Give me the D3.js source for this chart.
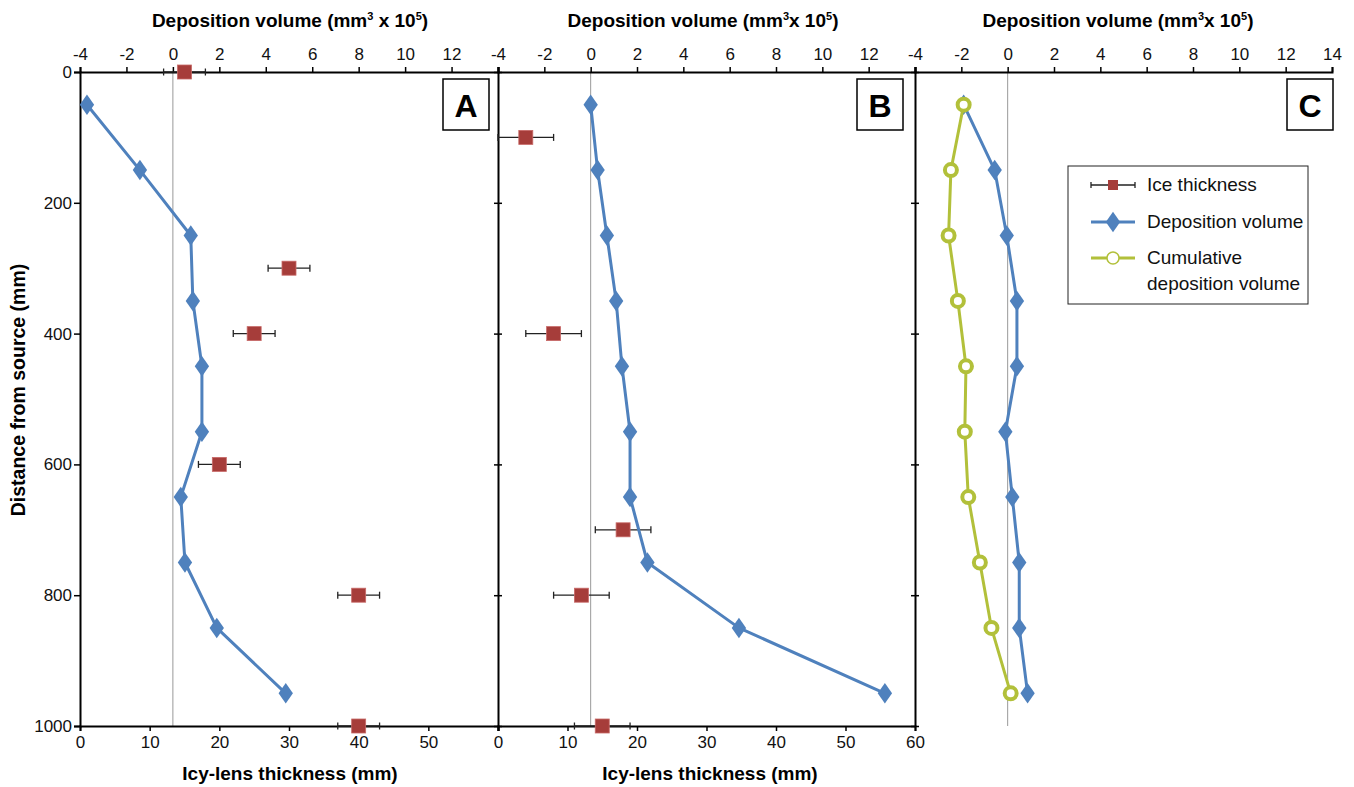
<!DOCTYPE html>
<html><head><meta charset="utf-8">
<script src="https://cdn.jsdelivr.net/npm/d3@7"></script>
<style>body{margin:0;background:#fff}svg{font-family:"Liberation Sans",Arial,sans-serif}</style>
</head><body><svg id="c" width="1354" height="787"></svg>
<script>
const distances = [50,150,250,350,450,550,650,750,850,950];
const depA = [-3.7,-1.42,0.77,0.86,1.25,1.25,0.34,0.52,1.89,4.86];
const depB = [0.0,0.3,0.7,1.1,1.35,1.7,1.7,2.45,6.4,12.7];
const depC = [-1.9,-0.56,-0.04,0.4,0.4,-0.1,0.2,0.5,0.5,0.86];
const cumC = [-1.9,-2.45,-2.55,-2.15,-1.8,-1.85,-1.7,-1.2,-0.7,0.13];
const iceDistA = [0,300,400,600,800,1000];
const iceA = [15,30,25,20,40,40];
const errA = 3;
const iceDistB = [100,400,700,800,1000];
const iceB = [4,8,18,12,15];
const errB = 4;
const depTicks = [-4,-2,0,2,4,6,8,10,12,14];
const thickTicks = [0,10,20,30,40,50,60];
const distTicks = [0,200,400,600,800,1000];
const panelLabels = ["A","B","C"];

const BLUE="#4F81BD", RED="#A63D3A", GREEN="#B2C03A";
const FONT="Liberation Sans, Arial, sans-serif";
const svg = d3.select("#c");
const yTop=72, yBot=726;
const y = d3.scaleLinear().domain([0,1000]).range([yTop,yBot]);
const edges=[80,498,915,1332];
const panels = [0,1,2].map(i=>({
  x0:edges[i], x1:edges[i+1],
  dep:d3.scaleLinear().domain([-4,14]).range([edges[i],edges[i+1]]),
  th:d3.scaleLinear().domain([0,60]).range([edges[i],edges[i+1]])
}));

function styleAxis(g){
  g.select(".domain").attr("stroke","#000").attr("stroke-width",2);
  g.selectAll(".tick line").attr("stroke","#000").attr("stroke-width",1.5);
  g.selectAll(".tick text").attr("font-size",17).attr("fill","#111").attr("font-family",FONT);
}

// zero lines
panels.forEach(p=>{
  svg.append("line").attr("x1",p.dep(0)).attr("x2",p.dep(0)).attr("y1",yTop).attr("y2",yBot)
    .attr("stroke","#999").attr("stroke-width",1);
});

// top axes
panels.forEach((p,i)=>{
  const g = svg.append("g").attr("transform",`translate(0,${yTop})`)
    .call(d3.axisTop(p.dep).tickValues(depTicks).tickSize(5).tickPadding(7)
      .tickFormat(d=> (i<2 && d===14) ? "" : String(d)));
  styleAxis(g);
});

// bottom axes for A and B
panels.slice(0,2).forEach((p,i)=>{
  const g = svg.append("g").attr("transform",`translate(0,${yBot})`)
    .call(d3.axisBottom(p.th).tickValues(thickTicks).tickSize(5).tickPadding(5)
      .tickFormat(d=> (i===0 && d===60) ? "" : String(d)));
  styleAxis(g);
});

// left axis
const gl = svg.append("g").attr("transform",`translate(80,0)`)
  .call(d3.axisLeft(y).tickValues(distTicks).tickSize(6).tickPadding(2).tickFormat(d=>String(d)));
styleAxis(gl);

// right borders of A and B with crossing ticks
[498,915].forEach(x=>{
  const g = svg.append("g").attr("transform",`translate(${x},0)`)
    .call(d3.axisLeft(y).tickValues(distTicks).tickSizeInner(5).tickSizeOuter(0).tickFormat(""));
  g.select(".domain").attr("stroke","#000").attr("stroke-width",2);
  g.selectAll(".tick line").attr("stroke","#000").attr("stroke-width",1.5).attr("x2",-4).attr("x1",4);
});

// ice thickness with error bars
function ice(p, dists, vals, err){
  const g = svg.append("g");
  dists.forEach((d,k)=>{
    const v=vals[k], yy=y(d);
    g.append("line").attr("x1",p.th(v-err)).attr("x2",p.th(v+err)).attr("y1",yy).attr("y2",yy).attr("stroke","#222").attr("stroke-width",1.3);
    [v-err,v+err].forEach(e=>g.append("line").attr("x1",p.th(e)).attr("x2",p.th(e)).attr("y1",yy-3.5).attr("y2",yy+3.5).attr("stroke","#222").attr("stroke-width",1.3));
    g.append("rect").attr("x",p.th(v)-7).attr("y",yy-7).attr("width",14).attr("height",14)
      .attr("fill",RED).attr("stroke","#C86A68").attr("stroke-width",0.8);
  });
}
ice(panels[0], iceDistA, iceA, errA);
ice(panels[1], iceDistB, iceB, errB);

const diamond = d3.symbol().type(d3.symbolDiamond).size(135);
function depLine(p, vals){
  const line = d3.line().x((d,k)=>p.dep(d)).y((d,k)=>y(distances[k]));
  svg.append("path").attr("d",line(vals)).attr("fill","none").attr("stroke",BLUE).attr("stroke-width",3).attr("stroke-linejoin","round");
  vals.forEach((v,k)=>{
    svg.append("path").attr("d",diamond()).attr("transform",`translate(${p.dep(v)},${y(distances[k])}) scale(1.15,0.95)`).attr("fill",BLUE);
  });
}
depLine(panels[0], depA);
depLine(panels[1], depB);
depLine(panels[2], depC);
{
  const p=panels[2];
  const line = d3.line().x(d=>p.dep(d)).y((d,k)=>y(distances[k]));
  svg.append("path").attr("d",line(cumC)).attr("fill","none").attr("stroke",GREEN).attr("stroke-width",3);
  cumC.forEach((v,k)=>{
    svg.append("circle").attr("cx",p.dep(v)).attr("cy",y(distances[k])).attr("r",6)
      .attr("fill","#fff").attr("stroke",GREEN).attr("stroke-width",4);
  });
}

// panel labels
const labX=[443,857,1287];
panelLabels.forEach((t,i)=>{
  svg.append("rect").attr("x",labX[i]).attr("y",79).attr("width",46).attr("height",51).attr("fill","#fff").attr("stroke","#000").attr("stroke-width",1.5);
  svg.append("text").attr("x",labX[i]+23).attr("y",117).attr("text-anchor","middle").attr("font-size",32).attr("font-weight","bold").text(t);
});

// titles
function topTitle(cx, space){
  const t = svg.append("text").attr("x",cx).attr("y",27).attr("text-anchor","middle").attr("font-size",19).attr("font-weight","bold");
  t.append("tspan").text("Deposition volume (mm");
  t.append("tspan").attr("dy",-7).attr("font-size",11).text("3");
  t.append("tspan").attr("dy",7).text(space?" x 10":"x 10");
  t.append("tspan").attr("dy",-7).attr("font-size",11).text("5");
  t.append("tspan").attr("dy",7).text(")");
}
topTitle(290,true); topTitle(703,false); topTitle(1118,false);
[290,710].forEach(cx=>svg.append("text").attr("x",cx).attr("y",780).attr("text-anchor","middle").attr("font-size",19).attr("font-weight","bold").text("Icy-lens thickness (mm)"));
svg.append("text").attr("transform","translate(25,390) rotate(-90)").attr("text-anchor","middle").attr("font-size",19.5).attr("font-weight","bold").text("Distance from source (mm)");

// legend
const lg = svg.append("g");
lg.append("rect").attr("x",1068).attr("y",166).attr("width",240).attr("height",138).attr("fill","#fff").attr("stroke","#222").attr("stroke-width",1);
const lx0=1091, lx1=1135, lxm=1113;
lg.append("line").attr("x1",lx0).attr("x2",lx1).attr("y1",185).attr("y2",185).attr("stroke","#222").attr("stroke-width",1.3);
[lx0,lx1].forEach(x=>lg.append("line").attr("x1",x).attr("x2",x).attr("y1",182).attr("y2",188).attr("stroke","#222").attr("stroke-width",1.3));
lg.append("rect").attr("x",lxm-5).attr("y",180).attr("width",10).attr("height",10).attr("fill",RED);
lg.append("line").attr("x1",lx0).attr("x2",lx1).attr("y1",222).attr("y2",222).attr("stroke",BLUE).attr("stroke-width",3);
lg.append("path").attr("d",diamond()).attr("transform",`translate(${lxm},222) scale(1.15,0.95)`).attr("fill",BLUE);
lg.append("line").attr("x1",lx0).attr("x2",lx1).attr("y1",258).attr("y2",258).attr("stroke",GREEN).attr("stroke-width",3);
lg.append("circle").attr("cx",lxm).attr("cy",258).attr("r",6).attr("fill","#fff").attr("stroke",GREEN).attr("stroke-width",1.5);
const lt=[["Ice thickness",191],["Deposition volume",228],["Cumulative",264],["deposition volume",290]];
lt.forEach(([t,yy])=>lg.append("text").attr("x",1147).attr("y",yy).attr("font-size",19).attr("fill","#111").text(t));
</script></body></html>
